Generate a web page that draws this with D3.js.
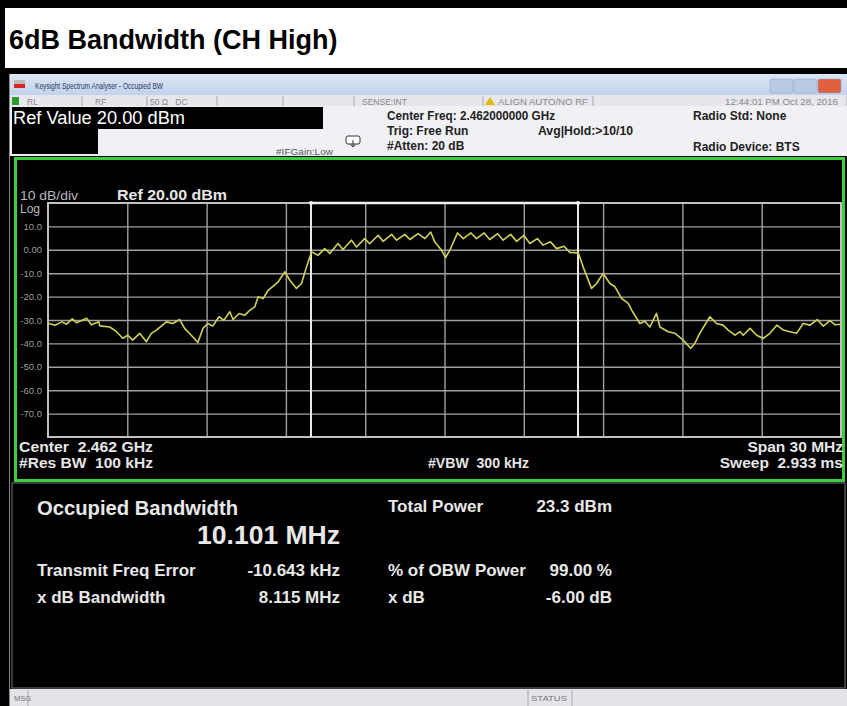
<!DOCTYPE html>
<html>
<head>
<meta charset="utf-8">
<script src="https://cdnjs.cloudflare.com/ajax/libs/d3/7.8.5/d3.min.js"></script>
<style>
  html, body { margin: 0; padding: 0; background: #000; }
  svg { display: block; font-family: "Liberation Sans", Arial, sans-serif; }
  text { white-space: pre; }
</style>
</head>
<body>
<script>
let width = 847;
let height = 706;

// trace: offset from centre (MHz) and level (dBm)
let traceFreq = [
  -15.00, -14.74, -14.47, -14.30, -14.08, -13.93, -13.53, -13.36, -13.08, -13.04,
  -12.66, -12.41, -12.17, -11.98, -11.80, -11.53, -11.28, -11.09, -10.90, -10.52,
  -10.28, -10.02, -9.83, -9.58, -9.33, -9.14, -8.95, -8.77, -8.53, -8.35,
  -8.12, -8.00, -7.77, -7.56, -7.39, -7.18, -7.05, -6.86, -6.67, -6.48,
  -6.29, -6.04, -5.85, -5.60, -5.41, -5.22, -5.03, -4.78, -4.53, -4.34,
  -4.03, -3.84, -3.52, -3.33, -3.02, -2.83, -2.51, -2.32, -2.00, -1.81,
  -1.50, -1.31, -1.00, -0.74, -0.52, -0.37, -0.11, 0.04, 0.20, 0.49,
  0.71, 1.00, 1.21, 1.50, 1.71, 2.01, 2.22, 2.50, 2.73, 3.00,
  3.23, 3.51, 3.73, 4.01, 4.24, 4.52, 4.74, 5.06, 5.25, 5.56,
  5.75, 6.00, 6.26, 6.45, 6.70, 6.95, 7.08, 7.39, 7.58, 7.77,
  8.02, 8.15, 8.46, 8.72, 9.03, 9.31, 9.47, 9.66, 10.04, 10.29,
  10.54, 10.73, 10.99, 11.18, 11.30, 11.56, 11.81, 12.06, 12.31, 12.57,
  12.82, 13.07, 13.32, 13.57, 13.83, 14.10, 14.33, 14.58, 14.77, 15.00
];
let traceLevel = [
  -31.4, -32.2, -30.8, -31.8, -29.5, -31.2, -29.3, -32.0, -30.8, -32.5,
  -33.0, -35.0, -37.8, -36.5, -38.6, -35.7, -39.3, -35.7, -34.3, -30.8,
  -31.5, -29.8, -33.6, -36.5, -39.6, -33.6, -31.5, -32.6, -28.6, -30.1,
  -26.5, -29.8, -27.2, -28.0, -26.1, -24.4, -20.1, -20.8, -17.3, -15.5,
  -13.7, -9.4, -13.0, -16.5, -14.4, -7.3, -0.9, -2.3, 0.5, -1.6,
  2.7, 0.1, 4.1, 1.2, 4.8, 2.6, 6.2, 3.6, 6.6, 4.1,
  6.6, 4.4, 6.9, 4.8, 7.6, 3.4, -0.2, -3.3, -0.2, 7.2,
  4.8, 7.2, 4.8, 7.2, 4.4, 6.9, 4.1, 6.6, 3.6, 6.2,
  2.7, 4.8, 2.0, 3.4, 0.5, 1.5, -1.1, -1.3, -7.5, -16.5,
  -14.4, -10.1, -14.4, -15.8, -20.8, -22.9, -25.8, -31.5, -30.5, -33.0,
  -27.2, -33.0, -35.0, -35.7, -38.6, -42.1, -40.0, -35.6, -28.6, -31.5,
  -32.2, -34.3, -36.5, -35.0, -36.5, -33.6, -36.5, -37.9, -35.7, -32.2,
  -34.3, -35.0, -35.7, -31.5, -32.2, -29.8, -32.6, -30.3, -32.0, -31.8
];

let xGrid = [-12, -9, -6, -3, 0, 3, 6, 9, 12];
let yTicks = [10, 0, -10, -20, -30, -40, -50, -60, -70];
let obwEdges = [-5.05, 5.05];

let statusCells = ['RL', 'RF', '50 \u03a9   DC', 'SENSE:INT', 'ALIGN AUTO/NO RF', '12:44:01 PM Oct 28, 2016'];
let setupLines = ['Center Freq: 2.462000000 GHz', 'Trig: Free Run', '#Atten: 20 dB'];
let radioLines = ['Radio Std: None', 'Radio Device: BTS'];
let footLeft = ['Center  2.462 GHz', '#Res BW  100 kHz'];
let footRight = ['Span 30 MHz', 'Sweep  2.933 ms'];

let obwValue = '10.101 MHz';
let leftLabels = ['Transmit Freq Error', 'x dB Bandwidth'];
let leftValues = ['-10.643 kHz', '8.115 MHz'];
let rightLabels = ['Total Power', '% of OBW Power', 'x dB'];
let rightValues = ['23.3 dBm', '99.00 %', '-6.00 dB'];

let svg = d3.select('body').append('svg')
  .attr('width', width)
  .attr('height', height);

// small helper for the screen texts
function label(parent, tx, ty, str, size, opts = {}) {
  let t = parent.append('text')
    .attr('x', tx).attr('y', ty)
    .attr('font-size', size)
    .attr('text-anchor', opts.anchor || 'start')
    .text(str);
  if (opts.bold) t.attr('font-weight', 'bold');
  if (opts.fill) t.attr('fill', opts.fill);
  if (opts.len) t.attr('textLength', opts.len).attr('lengthAdjust', 'spacingAndGlyphs');
  return t;
}

let defs = svg.append('defs');
let grad = defs.append('linearGradient').attr('id', 'tb').attr('x1', 0).attr('x2', 0).attr('y1', 0).attr('y2', 1);
grad.append('stop').attr('offset', 0).attr('stop-color', '#dde7f5');
grad.append('stop').attr('offset', 1).attr('stop-color', '#c2d2ea');

// page frame and heading
svg.append('rect').attr('width', width).attr('height', height).attr('fill', '#000');
svg.append('rect').attr('x', 5).attr('y', 8).attr('width', width - 5).attr('height', 60).attr('fill', '#fff');
label(svg, 9, 49, '6dB Bandwidth (CH High)', 27, { bold: true, fill: '#000' });

// window title bar
svg.append('rect').attr('x', 10).attr('y', 74).attr('width', width - 10).attr('height', 21).attr('fill', 'url(#tb)');
svg.append('rect').attr('x', 14).attr('y', 80).attr('width', 11).attr('height', 4).attr('fill', '#bbb');
svg.append('rect').attr('x', 14).attr('y', 84).attr('width', 11).attr('height', 4).attr('fill', '#d22');
label(svg, 35, 89, 'Keysight Spectrum Analyser - Occupied BW', 8.5, { fill: '#2a3a66', len: 128 });
[[770, '#b9cbe4'], [794, '#b9cbe4'], [818, '#e0603e']].forEach(([bx, c]) => {
  svg.append('rect').attr('x', bx).attr('y', 79).attr('width', 23).attr('height', 14)
    .attr('rx', 2).attr('fill', c).attr('stroke', '#8ea4c6').attr('stroke-width', 0.6);
});

// status row
svg.append('rect').attr('x', 10).attr('y', 95).attr('width', width - 10).attr('height', 11).attr('fill', '#e6e6ec');
[82, 147, 217, 283, 354, 483, 593, 847].forEach((dx) => {
  svg.append('line').attr('x1', dx).attr('x2', dx).attr('y1', 96).attr('y2', 106).attr('stroke', '#a8a8b0');
});
svg.append('rect').attr('x', 12).attr('y', 97).attr('width', 7).attr('height', 8).attr('fill', '#2e9a2e');
let statusX = [27, 95, 150, 362, 498, 838];
let statusLen = [0, 0, 0, 0, 90, 113];
statusCells.forEach((t, i) => {
  label(svg, statusX[i], 105, t, 8.5, {
    fill: '#8a8a8a',
    anchor: i === statusCells.length - 1 ? 'end' : 'start',
    len: statusLen[i] || null
  });
});
svg.append('path').attr('d', 'M485,105 L490,97 L495,105 Z').attr('fill', '#e0b800');

// setup info area
svg.append('rect').attr('x', 10).attr('y', 106).attr('width', width - 10).attr('height', 50).attr('fill', '#f1f1f5');
svg.append('rect').attr('x', 12).attr('y', 107).attr('width', 311).attr('height', 22).attr('fill', '#000');
svg.append('rect').attr('x', 12).attr('y', 129).attr('width', 86).attr('height', 25).attr('fill', '#000');
label(svg, 13, 124, 'Ref Value 20.00 dBm', 18, { fill: '#fff', len: 172 });
label(svg, 333, 154.5, '#IFGain:Low', 8.5, { fill: '#555', anchor: 'end', len: 57 });
svg.append('rect').attr('x', 346).attr('y', 136).attr('width', 14).attr('height', 8)
  .attr('rx', 2).attr('fill', '#fff').attr('stroke', '#333');
svg.append('path').attr('d', 'M353,140 v7 M350.5,144.5 l2.5,2.5 l2.5,-2.5').attr('fill', 'none').attr('stroke', '#333');
setupLines.forEach((t, i) => {
  label(svg, 387, 119.5 + i * 15.3, t, 12, { bold: true, fill: '#222', len: i === 0 ? 168 : null });
});
label(svg, 538, 135, 'Avg|Hold:>10/10', 12, { bold: true, fill: '#222', len: 95 });
radioLines.forEach((t, i) => {
  label(svg, 693, 120 + i * 31, t, 12, { bold: true, fill: '#222' });
});

// graph panel
svg.append('rect').attr('x', 15.5).attr('y', 158.5).attr('width', 828).attr('height', 322)
  .attr('fill', '#000').attr('stroke', '#3ccf3c').attr('stroke-width', 3);

let x = d3.scaleLinear().domain([-15, 15]).range([48, 841]);
let y = d3.scaleLinear().domain([-80, 20]).range([437, 203]);

let plot = svg.append('g');

plot.append('g')
  .attr('transform', `translate(0,${y(-80)})`)
  .call(d3.axisBottom(x).tickValues(xGrid).tickSize(-(y(-80) - y(20))).tickFormat(''))
  .call((g) => g.select('.domain').remove())
  .call((g) => g.selectAll('line').attr('stroke', '#a0a0a0').attr('stroke-width', 1.4));

plot.append('g')
  .attr('transform', `translate(${x(-15)},0)`)
  .call(d3.axisLeft(y).tickValues(yTicks).tickSize(-(x(15) - x(-15))).tickFormat(''))
  .call((g) => g.select('.domain').remove())
  .call((g) => g.selectAll('line').attr('stroke', '#a0a0a0').attr('stroke-width', 1.4));

plot.append('rect')
  .attr('x', x(-15)).attr('y', y(20))
  .attr('width', x(15) - x(-15)).attr('height', y(-80) - y(20))
  .attr('fill', 'none').attr('stroke', '#c0c0c0').attr('stroke-width', 2);

plot.append('g')
  .attr('transform', `translate(${x(-15) - 6},0)`)
  .call(d3.axisLeft(y).tickValues(yTicks).tickSize(0).tickPadding(0)
    .tickFormat((v) => v === 0 ? '0.00' : v.toFixed(1)))
  .call((g) => g.select('.domain').remove())
  .call((g) => g.selectAll('text').attr('fill', '#9c9c9c').attr('font-size', 9.5)
    .attr('font-family', '"Liberation Sans", Arial, sans-serif'));

label(svg, 20, 200, '10 dB/div', 12, { fill: '#b8b8b8', len: 58 });
label(svg, 20, 213, 'Log', 12, { fill: '#b8b8b8' });
label(svg, 117, 200, 'Ref 20.00 dBm', 14, { bold: true, fill: '#e6e6e6', len: 110 });

// occupied bandwidth markers
obwEdges.forEach((f) => {
  plot.append('line').attr('x1', x(f)).attr('x2', x(f)).attr('y1', y(20)).attr('y2', y(-80))
    .attr('stroke', '#e8e8e8').attr('stroke-width', 2);
  plot.append('circle').attr('cx', x(f)).attr('cy', y(20)).attr('r', 2).attr('fill', '#fff');
});
plot.append('line').attr('x1', x(obwEdges[0])).attr('x2', x(obwEdges[1]))
  .attr('y1', y(20)).attr('y2', y(20)).attr('stroke', '#f2f2f2').attr('stroke-width', 2.5);

// trace
let line = d3.line()
  .x((d, i) => x(traceFreq[i]))
  .y((d) => y(d));
plot.append('path').datum(traceLevel)
  .attr('d', line)
  .attr('fill', 'none')
  .attr('stroke', '#d3d05a')
  .attr('stroke-width', 1.6)
  .attr('stroke-linejoin', 'round');

footLeft.forEach((t, i) => {
  label(svg, 19, 452 + i * 16, t, 15.5, { bold: true, fill: '#e6e6e6', len: 134 });
});
footRight.forEach((t, i) => {
  label(svg, 843, 452 + i * 16, t, 15.5, { bold: true, fill: '#e6e6e6', anchor: 'end' });
});
label(svg, 428, 468, '#VBW  300 kHz', 15.5, { bold: true, fill: '#e6e6e6', len: 101 });

// results panel
svg.append('rect').attr('x', 12).attr('y', 483).attr('width', 833).attr('height', 205).attr('fill', '#000')
  .attr('stroke', '#777').attr('stroke-width', 1);
let res = svg.append('g').attr('fill', '#e8e8e8');
label(res, 37, 515, 'Occupied Bandwidth', 20, { bold: true, len: 201 });
label(res, 340, 544, obwValue, 26.5, { bold: true, anchor: 'end' });
leftLabels.forEach((t, i) => {
  label(res, 37, 576 + i * 27, t, 17, { bold: true });
  label(res, 340, 576 + i * 27, leftValues[i], 17, { bold: true, anchor: 'end' });
});
rightLabels.forEach((t, i) => {
  let yy = i === 0 ? 512 : 576 + (i - 1) * 27;
  label(res, 388, yy, t, 17, { bold: true });
  label(res, 612, yy, rightValues[i], 17, { bold: true, anchor: 'end' });
});

// bottom message bar
svg.append('rect').attr('x', 10).attr('y', 689).attr('width', width - 10).attr('height', 17).attr('fill', '#e4e4e8');
[28, 528, 572].forEach((dx) => {
  svg.append('line').attr('x1', dx).attr('x2', dx).attr('y1', 690).attr('y2', 706).attr('stroke', '#aaa');
});
label(svg, 14, 701, 'MSG', 7.5, { fill: '#777' });
label(svg, 531, 701, 'STATUS', 7.5, { fill: '#777', len: 36 });

// left edge of the screenshot
svg.append('line').attr('x1', 9.5).attr('x2', 9.5).attr('y1', 74).attr('y2', height).attr('stroke', '#888');
</script>
</body>
</html>
